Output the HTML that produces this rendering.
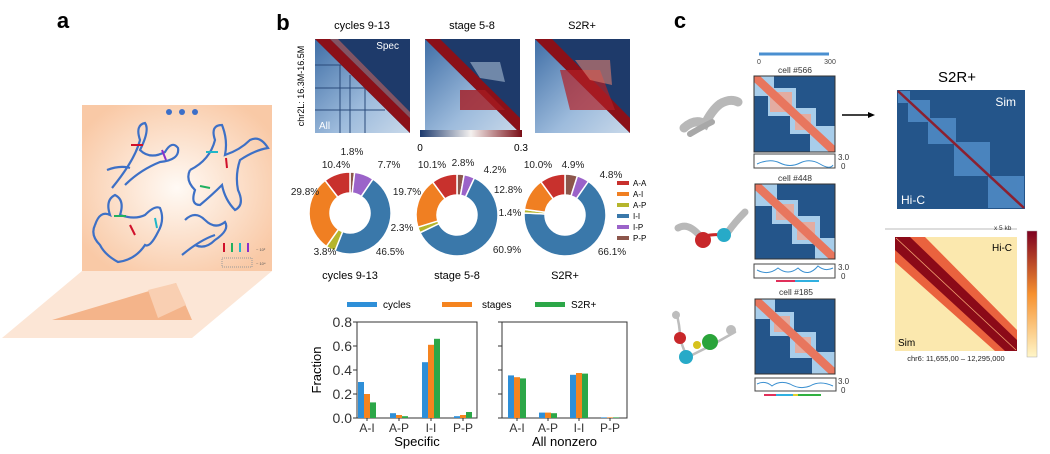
<!DOCTYPE html>
<html><head><meta charset="utf-8">
<style>
body{margin:0;background:#fff;}
svg{display:block;font-family:"Liberation Sans",sans-serif;}
</style></head>
<body>
<svg width="1050" height="454" viewBox="0 0 1050 454" xmlns="http://www.w3.org/2000/svg">
<defs>
 <radialGradient id="peach" cx="0.5" cy="0.5" r="0.6"><stop offset="0" stop-color="#fffaf5"/><stop offset="1" stop-color="#f9c9a6"/></radialGradient>
 <linearGradient id="cbar" x1="0" x2="1"><stop offset="0" stop-color="#1d3a6e"/><stop offset="0.5" stop-color="#f4f1ef"/><stop offset="1" stop-color="#7a0d16"/></linearGradient>
 <linearGradient id="hicbar" x1="0" y1="1" x2="0" y2="0"><stop offset="0" stop-color="#fff6c8"/><stop offset="0.5" stop-color="#f7912f"/><stop offset="1" stop-color="#7d0020"/></linearGradient>
 <linearGradient id="lowtri" x1="0" y1="0" x2="1" y2="1"><stop offset="0" stop-color="#3f6ea6"/><stop offset="0.6" stop-color="#9dbbdc"/><stop offset="1" stop-color="#c9d9ea"/></linearGradient>
 <clipPath id="c1"><rect x="315" y="39" width="95" height="94"/></clipPath>
 <clipPath id="c2"><rect x="425" y="39" width="95" height="94"/></clipPath>
 <clipPath id="c3"><rect x="535" y="39" width="95" height="94"/></clipPath>
 <clipPath id="k1"><rect x="754" y="76" width="81" height="76"/></clipPath>
 <clipPath id="k2"><rect x="755" y="184" width="80" height="75"/></clipPath>
 <clipPath id="k3"><rect x="755" y="299" width="80" height="75"/></clipPath>
</defs>

<!-- Panel a -->
<g>
 <text x="63" y="28" font-size="22" font-weight="bold" text-anchor="middle">a</text>
 <polygon points="82,271 272,271 192,338 2,338" fill="#fce6d6"/>
 <polygon points="52,320 176,283 192,320" fill="#f4b48a"/>
 <polygon points="148,290 176,283 186,305 158,318" fill="#f9cfb2"/>
 <rect x="82" y="105" width="190" height="166" fill="url(#peach)"/>
 <circle cx="169" cy="112" r="3" fill="#3c6fc8"/><circle cx="182" cy="112" r="3" fill="#3c6fc8"/><circle cx="195" cy="112" r="3" fill="#3c6fc8"/>
 <g fill="none" stroke="#3d70c6" stroke-width="2.2">
  <path d="M112,188 Q135,160 140,140 Q135,125 145,123 Q150,130 140,150 Q150,160 165,152 Q172,140 178,148 Q180,160 160,162 Q140,170 125,185"/>
  <path d="M107,170 Q120,165 130,168"/>
  <path d="M190,170 Q210,160 215,140 Q210,125 222,125 Q228,140 225,155 Q240,150 250,140 Q260,135 268,148 Q255,150 240,160 Q235,175 238,190 Q245,205 235,210 Q225,200 222,185 Q212,195 200,205 Q190,205 195,190 Q185,180 190,170"/>
  <path d="M95,225 Q100,210 110,215 Q105,200 115,195 Q125,200 120,215 Q135,220 145,215 Q155,205 160,208 Q165,220 158,232 Q150,248 145,245 Q135,260 118,262 Q105,255 100,245 Q90,235 95,225"/>
  <path d="M185,220 Q195,210 205,220 Q215,230 225,222 Q230,230 215,240 Q205,250 195,245"/>
  <path d="M182,255 Q200,240 215,235"/>
 </g>
 <g stroke-width="2">
  <line x1="131" y1="145" x2="143" y2="145" stroke="#d0102a"/><line x1="162" y1="150" x2="166" y2="160" stroke="#8b2fc9"/>
  <line x1="206" y1="152" x2="218" y2="152" stroke="#20b7c8"/><line x1="226" y1="158" x2="227" y2="168" stroke="#d0102a"/>
  <line x1="200" y1="186" x2="210" y2="188" stroke="#20b060"/><line x1="114" y1="216" x2="126" y2="216" stroke="#20b060"/>
  <line x1="130" y1="225" x2="135" y2="235" stroke="#d0102a"/><line x1="155" y1="218" x2="157" y2="228" stroke="#20b7c8"/>
  <line x1="224" y1="243" x2="224" y2="252" stroke="#d0102a"/><line x1="232" y1="243" x2="232" y2="252" stroke="#20b060"/>
  <line x1="240" y1="243" x2="240" y2="252" stroke="#20b7c8"/><line x1="248" y1="243" x2="248" y2="252" stroke="#8b2fc9"/>
 </g>
 <rect x="222" y="258" width="30" height="9" fill="none" stroke="#999" stroke-dasharray="1,1"/>
 <text x="256" y="251" font-size="4" fill="#555">~ 10²</text>
 <text x="256" y="265" font-size="4" fill="#555">~ 10⁴</text>
</g>

<!-- Panel b -->
<g>
 <text x="283" y="30" font-size="22" font-weight="bold" text-anchor="middle">b</text>
 <text transform="translate(304,86) rotate(-90)" font-size="9" text-anchor="middle">chr2L: 16.3M-16.5M</text>
 <g font-size="11" text-anchor="middle">
  <text x="362" y="29">cycles 9-13</text>
  <text x="472" y="29">stage 5-8</text>
  <text x="582" y="29">S2R+</text>
 </g>
 <g clip-path="url(#c1)">
  <rect x="315" y="39" width="95" height="94" fill="#1e3a6a"/>
  <polygon points="315,39 410,133 315,133" fill="url(#lowtri)"/>
  <g stroke="#2a4a7a" stroke-width="1"><line x1="315" y1="65" x2="345" y2="65"/><line x1="315" y1="88" x2="365" y2="88"/><line x1="315" y1="110" x2="385" y2="110"/><line x1="340" y1="65" x2="340" y2="133"/><line x1="350" y1="75" x2="350" y2="133"/><line x1="365" y1="88" x2="365" y2="133"/></g>
  <polygon points="315,39 330,39 410,118 410,133" fill="#8b1018"/>
  <polygon points="330,39 338,39 410,112 410,118" fill="#e66e5c" opacity="0.5"/>
 </g>
 <g clip-path="url(#c2)">
  <rect x="425" y="39" width="95" height="94" fill="#1e3a6a"/>
  <polygon points="425,39 520,133 425,133" fill="url(#lowtri)"/>
  <polygon points="425,39 440,39 520,118 520,133" fill="#8b1018"/>
  <polygon points="460,90 485,90 505,110 460,110" fill="#a51a20" opacity="0.8"/>
  <polygon points="470,62 500,62 505,82 480,78" fill="#c2d5e8" opacity="0.5"/>
 </g>
 <g clip-path="url(#c3)">
  <rect x="535" y="39" width="95" height="94" fill="#1e3a6a"/>
  <polygon points="535,39 630,133 535,133" fill="url(#lowtri)"/>
  <polygon points="535,39 552,39 630,118 630,133" fill="#8b1018"/>
  <polygon points="560,70 600,70 615,110 570,110" fill="#b22025" opacity="0.7"/>
  <polygon points="575,60 610,60 612,85 590,80" fill="#e08070" opacity="0.6"/>
 </g>
 <text x="399" y="49" font-size="10" fill="#fff" text-anchor="end">Spec</text>
 <text x="319" y="129" font-size="10" fill="#fff">All</text>
 <rect x="420" y="130" width="102" height="7" fill="url(#cbar)"/>
 <text x="420" y="151" font-size="10" text-anchor="middle">0</text>
 <text x="521" y="151" font-size="10" text-anchor="middle">0.3</text>

 <g id="donuts"></g>
 <g font-size="10" fill="#222">
  <text x="352" y="155" text-anchor="middle">1.8%</text><text x="336" y="168" text-anchor="middle">10.4%</text><text x="389" y="168" text-anchor="middle">7.7%</text>
  <text x="305" y="195" text-anchor="middle">29.8%</text><text x="325" y="255" text-anchor="middle">3.8%</text><text x="390" y="255" text-anchor="middle">46.5%</text>
  <text x="432" y="168" text-anchor="middle">10.1%</text><text x="463" y="166" text-anchor="middle">2.8%</text><text x="495" y="173" text-anchor="middle">4.2%</text>
  <text x="407" y="195" text-anchor="middle">19.7%</text><text x="402" y="231" text-anchor="middle">2.3%</text><text x="507" y="253" text-anchor="middle">60.9%</text>
  <text x="538" y="168" text-anchor="middle">10.0%</text><text x="573" y="168" text-anchor="middle">4.9%</text><text x="611" y="178" text-anchor="middle">4.8%</text>
  <text x="508" y="193" text-anchor="middle">12.8%</text><text x="510" y="216" text-anchor="middle">1.4%</text><text x="612" y="255" text-anchor="middle">66.1%</text>
 </g>
 <g font-size="11" text-anchor="middle">
  <text x="350" y="279">cycles 9-13</text>
  <text x="457" y="279">stage 5-8</text>
  <text x="565" y="279">S2R+</text>
 </g>
 <g id="donutLegend" font-size="8"></g>

 <g id="bars"></g>
</g>

<!-- Panel c -->
<g>
 <text x="680" y="28" font-size="22" font-weight="bold" text-anchor="middle">c</text>
 <line x1="759" y1="54" x2="829" y2="54" stroke="#4a8fd0" stroke-width="3"/>
 <text x="759" y="64" font-size="7" text-anchor="middle" fill="#444">0</text>
 <text x="830" y="64" font-size="7" text-anchor="middle" fill="#444">300</text>
 <g font-size="8.5" fill="#333" text-anchor="middle">
  <text x="795" y="73">cell #566</text><text x="795" y="181">cell #448</text><text x="796" y="295">cell #185</text>
 </g>
 <g stroke-linecap="round" fill="none">
  <path d="M684,128 Q695,118 705,124 Q712,110 720,104 Q730,98 738,102" stroke="#b8b8b8" stroke-width="9"/>
  <path d="M690,134 Q700,128 712,122" stroke="#a8a8a8" stroke-width="6"/>
  <path d="M678,228 Q688,222 700,236 M745,212 Q735,222 728,232" stroke="#b8b8b8" stroke-width="7"/>
  <path d="M698,240 Q708,232 728,236" stroke="#c8272a" stroke-width="3"/>
  <circle cx="703" cy="240" r="8" fill="#c8272a" stroke="none"/><circle cx="724" cy="235" r="7" fill="#27aac8" stroke="none"/>
  <path d="M676,312 Q680,325 680,338 Q684,352 688,357 L712,345 L735,332" stroke="#bdbdbd" stroke-width="2.5"/>
  <circle cx="680" cy="338" r="6" fill="#c8272a" stroke="none"/><circle cx="686" cy="357" r="7" fill="#27aac8" stroke="none"/>
  <circle cx="697" cy="345" r="4" fill="#d6c21d" stroke="none"/><circle cx="710" cy="342" r="8" fill="#2aa43a" stroke="none"/>
  <circle cx="731" cy="330" r="5" fill="#bdbdbd" stroke="none"/><circle cx="676" cy="315" r="4" fill="#bdbdbd" stroke="none"/>
 </g>
 <g>
  <g clip-path="url(#k1)">
   <rect x="754" y="76" width="81" height="76" fill="#24558a"/>
   <g fill="#a8cdea"><rect x="754" y="76" width="20" height="20"/><rect x="768" y="88" width="28" height="28"/><rect x="790" y="108" width="26" height="26"/><rect x="810" y="126" width="25" height="26"/></g>
   <g fill="#f2a590" opacity="0.8"><rect x="770" y="92" width="22" height="20"/><rect x="795" y="114" width="16" height="16"/></g>
   <polygon points="754,76 760,76 835,146 835,152 829,152 754,82" fill="#e8765e"/>
  </g>
  <rect x="754" y="76" width="81" height="76" fill="none" stroke="#333"/>
  <g clip-path="url(#k2)">
   <rect x="755" y="184" width="80" height="75" fill="#24558a"/>
   <g fill="#a8cdea"><rect x="755" y="184" width="22" height="22"/><rect x="772" y="200" width="26" height="24"/><rect x="792" y="216" width="28" height="28"/><rect x="815" y="238" width="20" height="21"/></g>
   <g fill="#f2a590" opacity="0.8"><rect x="776" y="204" width="18" height="16"/><rect x="797" y="222" width="18" height="18"/></g>
   <polygon points="755,184 761,184 835,253 835,259 829,259 755,190" fill="#e8765e"/>
  </g>
  <rect x="755" y="184" width="80" height="75" fill="none" stroke="#333"/>
  <g clip-path="url(#k3)">
   <rect x="755" y="299" width="80" height="75" fill="#24558a"/>
   <g fill="#a8cdea"><rect x="755" y="299" width="20" height="20"/><rect x="770" y="312" width="24" height="24"/><rect x="790" y="332" width="26" height="26"/><rect x="812" y="352" width="23" height="22"/></g>
   <g fill="#f2a590" opacity="0.8"><rect x="774" y="316" width="16" height="16"/><rect x="795" y="337" width="16" height="16"/></g>
   <polygon points="755,299 761,299 835,368 835,374 829,374 755,305" fill="#e8765e"/>
  </g>
  <rect x="755" y="299" width="80" height="75" fill="none" stroke="#333"/>
 </g>
 <g fill="none">
  <rect x="754" y="154" width="81" height="14" stroke="#444"/>
  <path d="M757,164 Q770,158 780,163 T800,163 T820,164 T833,165" stroke="#3a8fd0"/>
  <rect x="754" y="264" width="81" height="14" stroke="#444"/>
  <path d="M757,270 Q768,276 778,268 Q788,276 798,268 Q808,278 818,266 Q825,272 833,268" stroke="#3a8fd0"/>
  <rect x="755" y="378" width="81" height="13" stroke="#444"/>
  <path d="M757,384 Q765,380 772,386 Q780,380 790,384 Q800,390 810,386 Q820,380 833,386" stroke="#3a8fd0"/>
  <line x1="776" y1="281" x2="795" y2="281" stroke="#e0305a" stroke-width="2"/><line x1="795" y1="281" x2="819" y2="281" stroke="#30b0e0" stroke-width="2"/>
  <line x1="764" y1="395" x2="776" y2="395" stroke="#e0305a" stroke-width="2"/><line x1="776" y1="395" x2="793" y2="395" stroke="#30b0e0" stroke-width="2"/>
  <line x1="793" y1="395" x2="798" y2="395" stroke="#e0d030" stroke-width="2"/><line x1="798" y1="395" x2="821" y2="395" stroke="#30b040" stroke-width="2"/>
 </g>
 <g font-size="8" fill="#333">
  <text x="838" y="160">3.0</text><text x="841" y="169">0</text>
  <text x="838" y="270">3.0</text><text x="841" y="279">0</text>
  <text x="838" y="384">3.0</text><text x="841" y="393">0</text>
 </g>
 <line x1="842" y1="115" x2="870" y2="115" stroke="#000" stroke-width="1.5"/>
 <polygon points="875,115 868,112 868,118" fill="#000"/>
 <text x="957" y="82" font-size="15" text-anchor="middle">S2R+</text>
 <g>
  <rect x="897" y="90" width="128" height="119" fill="#24558a"/>
  <g fill="#4f8ac4" opacity="0.9"><rect x="898" y="91" width="12" height="12"/><rect x="908" y="100" width="22" height="22"/><rect x="928" y="118" width="28" height="26"/><rect x="954" y="142" width="36" height="34"/><rect x="988" y="176" width="36" height="32"/></g>
  <line x1="898" y1="91" x2="1024" y2="208" stroke="#8b2030" stroke-width="2.5"/>
  <text x="1016" y="106" font-size="12" fill="#fff" text-anchor="end">Sim</text>
  <text x="901" y="204" font-size="12" fill="#fff">Hi-C</text>
 </g>
 <line x1="885" y1="229" x2="1017" y2="229" stroke="#bbb"/>
 <text x="994" y="230" font-size="6.5" fill="#333">x 5 kb</text>
 <g>
  <rect x="895" y="237" width="122" height="114" fill="#fbe8ae"/>
  <polygon points="895,237 925,237 1017,330 1017,351 995,351 895,262" fill="#e64a2a" opacity="0.85"/>
  <polygon points="895,237 910,237 1017,340 1017,351 1005,351 895,250" fill="#8b0a18"/>
  <line x1="896" y1="238" x2="1016" y2="350" stroke="#f2a070" stroke-width="0.8"/>
  <text x="1012" y="251" font-size="10" text-anchor="end">Hi-C</text>
  <text x="898" y="346" font-size="10">Sim</text>
 </g>
 <text x="956" y="361" font-size="7.5" text-anchor="middle" fill="#222">chr6: 11,655,00 – 12,295,000</text>
 <rect x="1027" y="231" width="10" height="126" fill="url(#hicbar)" stroke="#aaa" stroke-width="0.5"/>
</g>

<script>
// Donut data (clockwise from top): P-P, I-P, I-I, A-P, A-I, A-A
const donutCats = ["P-P","I-P","I-I","A-P","A-I","A-A"];
const donutColors = ["#8c564b","#9b63c9","#3a78aa","#b5b52c","#f07f22","#c8312d"];
const donutCycles = [1.8,7.7,46.5,3.8,29.8,10.4];
const donutStage = [2.8,4.2,60.9,2.3,19.7,10.1];
const donutS2R = [4.9,4.8,66.1,1.4,12.8,10.0];
const legendCats = ["A-A","A-I","A-P","I-I","I-P","P-P"];
const legendColors = ["#c8312d","#f07f22","#b5b52c","#3a78aa","#9b63c9","#8c564b"];

// Bar data
const barCats = ["A-I","A-P","I-I","P-P"];
const seriesNames = ["cycles","stages","S2R+"];
const seriesColors = ["#2e8fd8","#f5841f","#2ca748"];
const specCycles = [0.30,0.04,0.465,0.015];
const specStages = [0.20,0.025,0.61,0.025];
const specS2R = [0.13,0.015,0.66,0.05];
const allCycles = [0.355,0.045,0.36,0.005];
const allStages = [0.34,0.045,0.375,0.005];
const allS2R = [0.33,0.04,0.37,0.005];
const yTicks = [0.0,0.2,0.4,0.6,0.8];
const yTickLabels = ["0.0","0.2","0.4","0.6","0.8"];

const NS="http://www.w3.org/2000/svg";
function mk(tag, attrs, parent){const e=document.createElementNS(NS,tag);for(const k in attrs)e.setAttribute(k,attrs[k]);parent.appendChild(e);return e;}

function drawDonut(vals, cx, cy, name){
  const g=document.getElementById('donuts');
  const R=41, r=20;
  const total=vals.reduce((a,b)=>a+b,0);
  let a0=0;
  vals.forEach((v,i)=>{
    const a1=a0+v/total*2*Math.PI;
    const p=(a,rad)=>[cx+rad*Math.sin(a), cy-rad*Math.cos(a)];
    const [x0,y0]=p(a0,R),[x1,y1]=p(a1,R),[x2,y2]=p(a1,r),[x3,y3]=p(a0,r);
    const large=(a1-a0)>Math.PI?1:0;
    const path=mk('path',{d:`M${x0},${y0} A${R},${R} 0 ${large} 1 ${x1},${y1} L${x2},${y2} A${r},${r} 0 ${large} 0 ${x3},${y3} Z`,fill:donutColors[i],stroke:'#fff','stroke-width':1.5},g);
    
    
    a0=a1;
  });
}
drawDonut(donutCycles,350,213,'cycles');
drawDonut(donutStage,457,215,'stage');
drawDonut(donutS2R,565,215,'s2r');

const lg=document.getElementById('donutLegend');
legendCats.forEach((c,i)=>{
  const y=183+i*11;
  const l=mk('rect',{x:617,y:y-2,width:12,height:4,fill:legendColors[i]},lg);
  
  
  const t=mk('text',{x:633,y:y+3},lg); t.textContent=c;
  
  
});

const bg=document.getElementById('bars');
const y0=418, yTop=322;
const yScale=v=>y0-(v/0.8)*(y0-yTop);
const legX=[347,442,535];
seriesNames.forEach((s,i)=>{
  const r=mk('rect',{x:legX[i],y:302,width:30,height:5,fill:seriesColors[i]},bg);
  
  
  const t=mk('text',{x:legX[i]+(i==1?40:36),y:308,'font-size':10},bg); t.textContent=s;
  
  
});
function panel(left,right,start,step,series,label,showY){
  const ax=mk('rect',{x:left,y:yTop,width:right-left,height:y0-yTop,fill:'none',stroke:'#333','stroke-width':1},bg);
  
  
  yTicks.forEach((v,i)=>{
    const y=yScale(v);
    mk('line',{x1:left-4,y1:y,x2:left,y2:y,stroke:'#333'},bg);
    if(showY){const t=mk('text',{x:left-5,y:y+5,'font-size':14,'text-anchor':'end',fill:'#333'},bg);t.textContent=yTickLabels[i];
      
      }
  });
  barCats.forEach((c,ci)=>{
    const cx=start+ci*step;
    series.forEach((s,si)=>{
      const v=s[ci];
      const b=mk('rect',{x:cx-9+si*6,y:yScale(v),width:6,height:y0-yScale(v),fill:seriesColors[si]},bg);
      
      
    });
    mk('line',{x1:cx,y1:y0,x2:cx,y2:y0+3,stroke:'#333'},bg);
    const t=mk('text',{x:cx,y:y0+14,'font-size':12,'text-anchor':'middle',fill:'#333'},bg);t.textContent=c;
    
    
  });
  const t=mk('text',{x:(left+right)/2,y:446,'font-size':13,'text-anchor':'middle'},bg);t.textContent=label;
  
  
}
panel(357,477,367,32,[specCycles,specStages,specS2R],'Specific',true);
panel(502,627,517,31,[allCycles,allStages,allS2R],'All nonzero',false);
const yt=mk('text',{transform:'translate(321,370) rotate(-90)','font-size':13,'text-anchor':'middle'},bg);yt.textContent='Fraction';


</script>
</svg>
</body></html>
